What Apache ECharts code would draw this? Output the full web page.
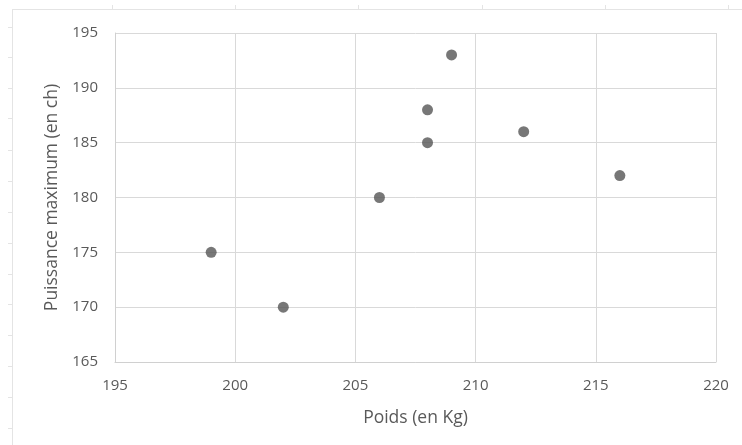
<!DOCTYPE html>
<html>
<head>
<meta charset="utf-8">
<script src="https://cdn.jsdelivr.net/npm/echarts@6/dist/echarts.min.js"></script>
<style>
  html, body { margin: 0; padding: 0; background: #fff; }
  #chart { width: 742px; height: 445px; }
</style>
</head>
<body>
<div id="chart"></div>
<script>
// Poids (kg) et puissance maximum (ch) de chaque moto
const poids = [199, 202, 206, 208, 208, 209, 212, 216];
const puissance = [175, 170, 180, 188, 185, 193, 186, 182];

const xTicks = [195, 200, 205, 210, 215, 220];
const yTicks = [165, 170, 175, 180, 185, 190, 195];

const points = poids.map((p, i) => [p, puissance[i]]);

const textColor = '#595959';
const font = '"Open Sans", "Noto Sans", sans-serif';

// faint ruler lines around the worksheet frame
const rulerColor = '#e4e4e4';
const ruler = [
  { type: 'line', shape: { x1: 12, y1: 9.5, x2: 742, y2: 9.5 }, style: { stroke: rulerColor, lineWidth: 1 }, silent: true },
  { type: 'line', shape: { x1: 12.5, y1: 9, x2: 12.5, y2: 445 }, style: { stroke: rulerColor, lineWidth: 1 }, silent: true }
];
[112, 235, 358, 482, 605, 728].forEach(x => ruler.push({
  type: 'line', shape: { x1: x + 0.5, y1: 5, x2: x + 0.5, y2: 9 }, style: { stroke: rulerColor, lineWidth: 1 }, silent: true
}));
[27, 57, 88, 118, 150, 181, 212, 243, 274, 304, 335, 366, 397, 428].forEach(y => ruler.push({
  type: 'line', shape: { x1: 8, y1: y + 0.5, x2: 12, y2: y + 0.5 }, style: { stroke: rulerColor, lineWidth: 1 }, silent: true
}));

const chart = echarts.init(document.getElementById('chart'), null, { renderer: 'canvas' });
chart.setOption({
  animation: false,
  backgroundColor: '#fff',
  textStyle: { fontFamily: font },
  graphic: ruler,
  grid: { left: 115, top: 33, right: 26, bottom: 83 },
  xAxis: {
    type: 'value',
    min: xTicks[0],
    max: xTicks[xTicks.length - 1],
    interval: xTicks[1] - xTicks[0],
    name: 'Poids (en Kg)',
    nameLocation: 'middle',
    nameGap: 47,
    nameTextStyle: { color: textColor, fontSize: 17.5, fontFamily: font },
    axisLine: { show: true, lineStyle: { color: '#d0d0d0', width: 1 } },
    axisTick: { show: false },
    axisLabel: { color: textColor, fontSize: 15, margin: 16, fontFamily: font },
    splitLine: { show: true, lineStyle: { color: '#d9d9d9', width: 1 } }
  },
  yAxis: {
    type: 'value',
    min: yTicks[0],
    max: yTicks[yTicks.length - 1],
    interval: yTicks[1] - yTicks[0],
    name: 'Puissance maximum (en ch)',
    nameLocation: 'middle',
    nameGap: 54,
    nameTextStyle: { color: textColor, fontSize: 17.5, fontFamily: font },
    axisLine: { show: true, lineStyle: { color: '#d0d0d0', width: 1 } },
    axisTick: { show: false },
    axisLabel: { color: textColor, fontSize: 15, margin: 17, fontFamily: font },
    splitLine: { show: true, lineStyle: { color: '#d9d9d9', width: 1 } }
  },
  series: [{
    type: 'scatter',
    data: points,
    symbol: 'circle',
    symbolSize: 11,
    itemStyle: { color: '#555555' }
  }]
});
</script>
</body>
</html>
